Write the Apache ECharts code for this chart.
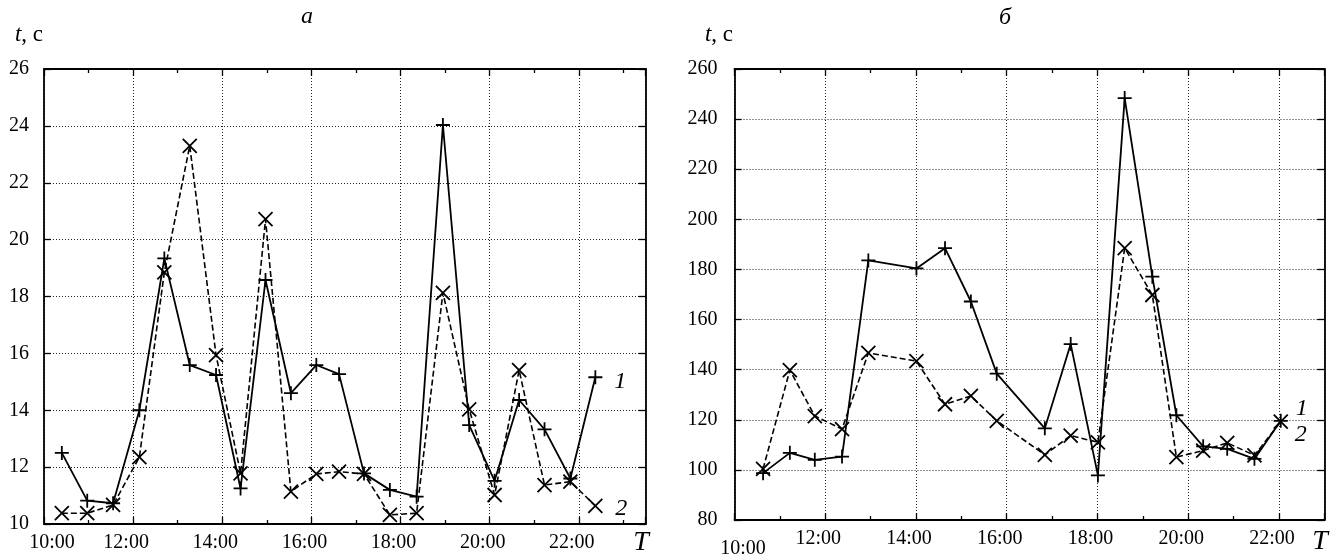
<!DOCTYPE html>
<html><head><meta charset="utf-8">
<script src="https://cdn.jsdelivr.net/npm/echarts@6/dist/echarts.min.js"></script>
<style>html,body{margin:0;padding:0;background:#fff}#c{width:1337px;height:559px}</style>
</head><body><div id="c"></div>
<script>
// ---- data (hours as decimal, values in seconds) ----
const leftTimes  = [10.40, 10.97, 11.55, 12.14, 12.70, 13.27, 13.86, 14.41, 14.97, 15.54, 16.11, 16.62, 17.18, 17.76, 18.36, 18.95, 19.54, 20.11, 20.66, 21.23, 21.81, 22.37];
const leftSeries1 = [12.5, 10.82, 10.73, 14.0, 19.34, 15.59, 15.24, 11.25, 18.58, 14.6, 15.59, 15.27, 11.78, 11.2, 10.96, 24.03, 13.48, 11.52, 14.36, 13.33, 11.6, 15.16];
const leftSeries2 = [10.38, 10.38, 10.67, 12.35, 18.85, 23.3, 15.94, 11.78, 20.72, 11.14, 11.76, 11.84, 11.76, 10.32, 10.38, 18.13, 14.03, 11.02, 15.41, 11.37, 11.49, 10.64];

const rightTimes  = [10.63, 11.22, 11.77, 12.37, 12.95, 14.01, 14.64, 15.21, 15.78, 16.84, 17.41, 18.01, 18.60, 19.21, 19.74, 20.33, 20.86, 21.46, 22.04];
const rightSeries1 = [98.7, 106.8, 104.0, 105.3, 183.6, 180.4, 188.5, 167.2, 138.4, 116.6, 150.2, 97.8, 248.4, 177.1, 121.8, 109.4, 108.4, 104.4, 119.6];
const rightSeries2 = [100.4, 139.8, 121.5, 116.3, 146.7, 143.4, 126.2, 129.5, 119.6, 106.0, 113.7, 111.0, 188.5, 169.8, 105.1, 107.7, 110.8, 105.8, 119.3];

const seriesNames = ['1', '2'];
const panelTitles = ['а', 'б'];
const yAxisTitle = 't, с';
const xAxisTitle = 'T';

// ---- styling ----
const FONT = '"Liberation Serif","DejaVu Serif","Times New Roman",serif';
const PLUS = 'path://M0,5L10,5M5,0L5,10';
const CROSS = 'path://M0,0L10,10M10,0L0,10';
const TICKFS = 20;

const charts = [
  {grid: {left: 44, top: 69, width: 601.7, height: 455}, xMin: 10, xMax: 23.5, yMin: 10, yMax: 26, yInt: 2,
   times: leftTimes, s1: leftSeries1, s2: leftSeries2, yMargin: 15, firstPad: [0, 0, 0, 16],
   end1: [19, 4], end2: [20, 3]},
  {grid: {left: 734.5, top: 69, width: 589.8, height: 454.3}, xMin: 10, xMax: 23, yMin: 80, yMax: 260, yInt: 20,
   times: rightTimes, s1: rightSeries1, s2: rightSeries2, yMargin: 17, firstPad: [10, 0, 0, 17],
   end1: [15, -12], end2: [14, 13]}
];

const grids = [], xAxes = [], yAxes = [], series = [];
const axisLine = {show: true, onZero: false, lineStyle: {color: '#000', width: 1.8}};
const split = {show: true, lineStyle: {color: '#222', type: [1, 2], width: 1}};

charts.forEach((c, gi) => {
  grids.push(Object.assign({containLabel: false}, c.grid));
  const base = {type: 'value', gridIndex: gi, min: c.xMin, max: c.xMax, interval: 2};
  xAxes.push(Object.assign({}, base, {
    position: 'bottom', axisLine,
    axisTick: {show: true, inside: true, length: 7, lineStyle: {color: '#000', width: 1.3}},
    minorTick: {show: true, splitNumber: 2, length: 4, lineStyle: {color: '#000', width: 1.3}},
    splitLine: split,
    axisLabel: {
      show: true, margin: 9, showMaxLabel: false,
      formatter: v => (v === c.xMin ? '{f|' + v + ':00}' : '{n|' + v + ':00}'),
      rich: {
        f: {fontFamily: FONT, fontSize: TICKFS, color: '#000', padding: c.firstPad},
        n: {fontFamily: FONT, fontSize: TICKFS, color: '#000', padding: [0, 14, 0, 0]}
      }
    }
  }));
  xAxes.push(Object.assign({}, base, {
    position: 'top', axisLine,
    axisTick: {show: true, inside: true, length: 7, lineStyle: {color: '#000', width: 1.3}},
    minorTick: {show: true, splitNumber: 2, length: 4, lineStyle: {color: '#000', width: 1.3}},
    splitLine: {show: false}, axisLabel: {show: false}
  }));
  const ybase = {type: 'value', gridIndex: gi, min: c.yMin, max: c.yMax, interval: c.yInt};
  yAxes.push(Object.assign({}, ybase, {
    position: 'left', axisLine,
    axisTick: {show: true, inside: true, length: 7, lineStyle: {color: '#000', width: 1.3}},
    splitLine: split,
    axisLabel: {show: true, margin: c.yMargin, fontFamily: FONT, fontSize: TICKFS, color: '#000'}
  }));
  yAxes.push(Object.assign({}, ybase, {
    position: 'right', axisLine,
    axisTick: {show: true, inside: true, length: 7, lineStyle: {color: '#000', width: 1.3}},
    splitLine: {show: false}, axisLabel: {show: false}
  }));
  const endLbl = (txt, off) => ({show: true, formatter: txt, distance: 0, offset: off,
    fontFamily: FONT, fontStyle: 'italic', fontSize: 24, color: '#000'});
  series.push({
    type: 'line', name: seriesNames[0], xAxisIndex: gi * 2, yAxisIndex: gi * 2,
    data: c.times.map((t, i) => [t, c.s1[i]]),
    symbol: PLUS, symbolSize: 14, z: 3,
    lineStyle: {color: '#000', width: 1.8},
    itemStyle: {color: 'rgba(0,0,0,0)', borderColor: '#000', borderWidth: 1.8},
    endLabel: endLbl(seriesNames[0], c.end1),
    animation: false
  });
  series.push({
    type: 'line', name: seriesNames[1], xAxisIndex: gi * 2, yAxisIndex: gi * 2,
    data: c.times.map((t, i) => [t, c.s2[i]]),
    symbol: CROSS, symbolSize: 14, z: 2,
    lineStyle: {color: '#000', width: 1.6, type: [6, 3]},
    itemStyle: {color: 'rgba(0,0,0,0)', borderColor: '#000', borderWidth: 1.8},
    endLabel: endLbl(seriesNames[1], c.end2),
    animation: false
  });
});

const txt = (x, y, rich, text, size, italic) => ({
  type: 'text', x, y, style: {text, rich, fontFamily: FONT, fontSize: size, fontStyle: italic ? 'italic' : 'normal',
    fill: '#000', align: 'center', verticalAlign: 'middle'}
});
const yRich = {i: {fontFamily: FONT, fontStyle: 'italic', fontSize: 23, fill: '#000'},
               n: {fontFamily: FONT, fontSize: 23, fill: '#000'}};
const yLabel = '{i|' + yAxisTitle.split(',')[0] + '}{n|,' + yAxisTitle.split(',')[1] + '}';

const chart = echarts.init(document.getElementById('c'), null, {renderer: 'canvas'});
chart.setOption({
  animation: false,
  backgroundColor: '#fff',
  grid: grids, xAxis: xAxes, yAxis: yAxes, series,
  graphic: [
    txt(29, 35, yRich, yLabel, 23, false),
    txt(719, 35, yRich, yLabel, 23, false),
    txt(307, 17, null, panelTitles[0], 24, true),
    txt(1005, 18, null, panelTitles[1], 24, true),
    txt(641, 543, null, xAxisTitle, 28, true),
    txt(1320, 542, null, xAxisTitle, 28, true)
  ]
});
</script></body></html>
